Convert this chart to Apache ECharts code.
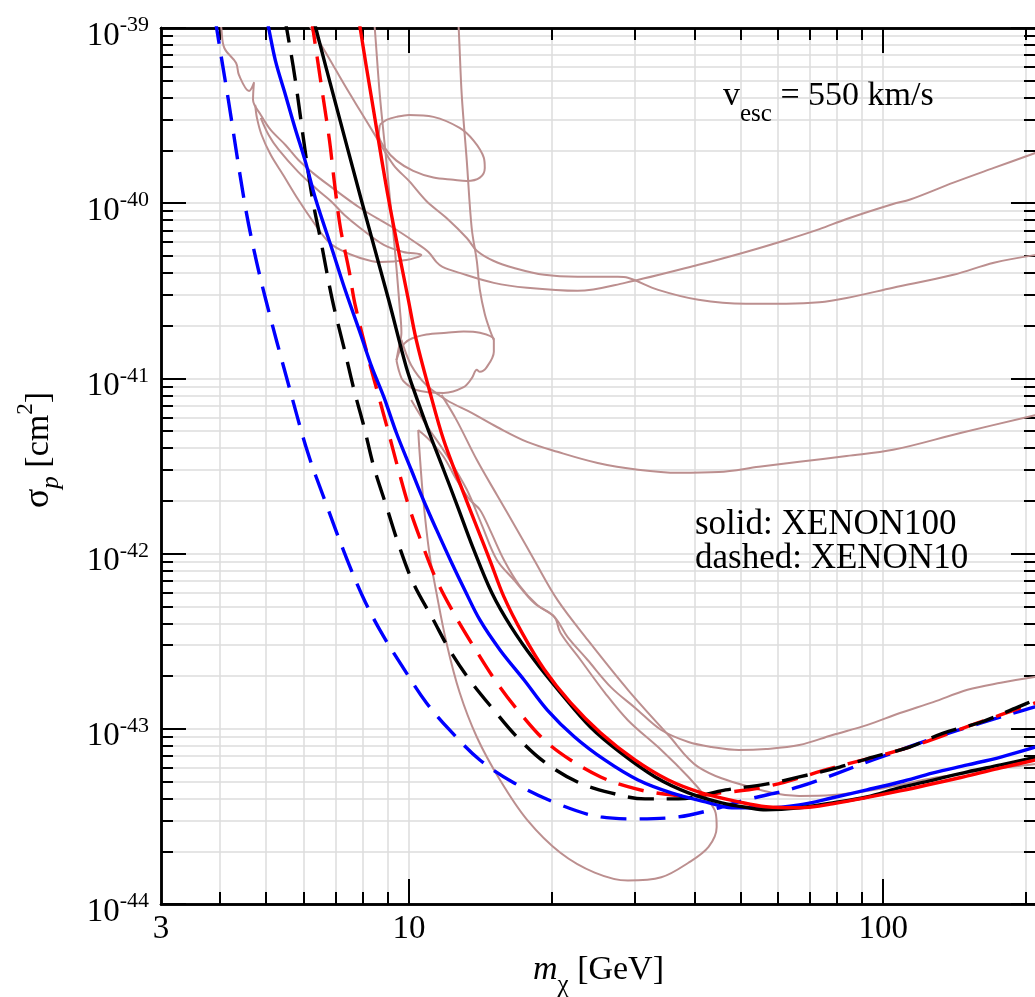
<!DOCTYPE html>
<html>
<head>
<meta charset="utf-8">
<script src="https://cdn.jsdelivr.net/npm/echarts@6/dist/echarts.min.js"></script>
<style>
html,body{margin:0;padding:0;background:#fff;overflow:hidden;}
#chart{width:1040px;height:997px;}
</style>
</head>
<body>
<div id="chart"></div>
<script>
// ---- axis ticks ----
const massTicks = [4, 5, 6, 7, 8, 9, 10, 20, 30, 40, 50, 60, 70, 80, 90, 100, 200];
const massMajorTicks = [10, 100];
const massLabels = [3, 10, 100];
const sigmaDecades = [1e-44, 1e-43, 1e-42, 1e-41, 1e-40, 1e-39];
const sigmaMantissas = [1, 2, 3, 4, 5, 6, 7, 8, 9];

// ---- exclusion limits, [m_chi (GeV), sigma_p (cm^2)] ----
// XENON10 (dashed)
const xenon10Blue = [[3.91,1.14e-39],[3.93,1.0e-39],[4.16,3.89e-40],[4.49,1.05e-40],[4.71,5.41e-41],[4.99,2.81e-41],[5.56,9.41e-42],[6.12,3.76e-42],[6.64,2.03e-42],[7.31,1.01e-42],[7.96,5.81e-43],[8.68,3.67e-43],[9.87,2.09e-43],[10.88,1.41e-43],[12.18,9.85e-44],[14.11,6.64e-44],[16.66,4.91e-44],[20.86,3.68e-44],[25.37,3.14e-44],[30.41,3.06e-44],[36.98,3.14e-44],[43.47,3.45e-44],[51.33,3.93e-44],[66.53,4.67e-44],[95.09,6.64e-44],[133.9,9.22e-44],[192.3,1.25e-43],[210,1.34e-43]];
const xenon10Red = [[6.24,1.14e-39],[6.27,1.0e-39],[6.42,6.49e-40],[6.58,4.15e-40],[6.80,2.27e-40],[6.97,1.28e-40],[7.17,7.22e-41],[7.48,4.10e-41],[7.70,2.63e-41],[8.23,1.27e-41],[8.64,7.84e-42],[9.06,4.88e-42],[9.50,3.01e-42],[10.0,1.85e-42],[10.72,1.09e-42],[11.43,7.07e-43],[12.42,4.59e-43],[13.70,2.94e-43],[15.33,1.83e-43],[17.15,1.23e-43],[19.29,8.63e-44],[21.91,6.64e-44],[25.37,5.31e-44],[28.95,4.67e-44],[33.05,4.31e-44],[38.84,4.14e-44],[45.65,4.31e-44],[56.6,4.67e-44],[78.19,5.98e-44],[112.3,7.77e-44],[158.2,1.08e-43],[210,1.41e-43]];
const xenon10Black = [[5.46,1.16e-39],[5.52,1.0e-39],[5.75,5.19e-40],[6.04,1.99e-40],[6.27,1.03e-40],[6.52,6.09e-41],[6.90,2.77e-41],[7.31,1.46e-41],[7.66,8.59e-42],[8.04,5.29e-42],[8.43,3.13e-42],[8.97,1.85e-42],[9.55,1.09e-42],[10.21,6.80e-43],[11.26,4.18e-43],[12.18,2.82e-43],[13.43,1.90e-43],[15.10,1.28e-43],[16.90,8.98e-44],[19.29,6.47e-44],[22.67,4.97e-44],[26.65,4.31e-44],[31.47,3.98e-44],[36.98,3.98e-44],[46.55,4.48e-44],[56.6,4.83e-44],[66.53,5.31e-44],[80.91,6.05e-44],[95.09,6.90e-44],[114.0,7.88e-44],[133.9,9.46e-44],[160.6,1.09e-43],[192.3,1.33e-43],[210,1.47e-43]];
// XENON100 (solid)
const xenon100Blue = [[5.01,1.14e-39],[5.06,1.0e-39],[5.23,6.49e-40],[5.49,4.15e-40],[5.75,2.69e-40],[6.04,1.75e-40],[6.36,1.05e-40],[6.90,5.36e-41],[7.31,3.29e-41],[7.89,1.82e-41],[8.35,1.16e-41],[8.85,7.84e-42],[9.41,4.88e-42],[10.11,3.01e-42],[10.72,2.03e-42],[11.43,1.37e-42],[12.30,8.87e-43],[13.11,6.20e-43],[14.11,4.18e-43],[15.56,2.82e-43],[17.49,1.90e-43],[19.58,1.28e-43],[22.35,8.98e-44],[25.87,6.64e-44],[30.41,5.10e-44],[35.74,4.31e-44],[42.21,3.83e-44],[47.94,3.54e-44],[56.6,3.54e-44],[66.53,3.68e-44],[78.19,4.04e-44],[92.35,4.48e-44],[108.5,4.97e-44],[127.5,5.60e-44],[150.6,6.22e-44],[177.0,6.90e-44],[210,7.88e-44]];
const xenon100Black = [[6.30,1.14e-39],[6.36,1.0e-39],[6.97,3.89e-40],[7.93,1.05e-40],[9.06,2.81e-41],[9.87,1.16e-41],[10.36,7.84e-42],[11.04,4.88e-42],[11.83,3.01e-42],[12.67,1.85e-42],[13.63,1.09e-42],[14.96,5.96e-43],[16.42,3.82e-43],[18.37,2.47e-43],[20.86,1.61e-43],[24.16,1.02e-43],[27.98,7.28e-44],[33.05,5.31e-44],[38.84,4.31e-44],[45.65,3.78e-44],[52.10,3.54e-44],[56.6,3.45e-44],[66.53,3.54e-44],[78.19,3.78e-44],[92.35,4.08e-44],[108.5,4.61e-44],[127.5,5.10e-44],[150.6,5.68e-44],[177.0,6.22e-44],[210,6.90e-44]];
const xenon100Red = [[7.85,1.14e-39],[7.89,1.0e-39],[8.35,3.89e-40],[9.06,1.05e-40],[9.97,2.81e-41],[10.36,1.66e-41],[11.04,8.59e-42],[11.83,4.46e-42],[12.79,2.53e-42],[13.90,1.42e-42],[14.81,9.19e-43],[15.86,5.66e-43],[17.32,3.53e-43],[19.29,2.18e-43],[21.91,1.41e-43],[25.37,9.46e-44],[29.96,6.64e-44],[35.23,5.10e-44],[41.39,4.31e-44],[49.61,3.83e-44],[56.6,3.59e-44],[66.53,3.54e-44],[78.19,3.73e-44],[108.5,4.42e-44],[150.6,5.38e-44],[177.0,5.98e-44],[210,6.64e-44]];

// ---- other experiments (thin, light brown) ----
const regionUpperLoop = [[8.68,2.80e-40],[8.97,2.99e-40],[9.41,3.11e-40],[10.0,3.19e-40],[11.26,3.11e-40],[12.79,2.69e-40],[13.70,2.27e-40],[14.38,1.82e-40],[14.45,1.59e-40],[14.11,1.40e-40],[13.24,1.34e-40],[12.42,1.36e-40],[11.26,1.40e-40],[10.21,1.53e-40],[9.41,1.75e-40],[8.89,2.07e-40],[8.64,2.45e-40],[8.68,2.80e-40]];
const regionLowerLoop = [[9.41,1.27e-41],[9.64,1.50e-41],[10.0,1.66e-41],[10.88,1.78e-41],[12.0,1.82e-41],[13.04,1.85e-41],[14.11,1.82e-41],[15.10,1.66e-41],[15.10,1.42e-41],[14.59,1.16e-41],[14.11,1.09e-41],[13.90,1.12e-41],[13.56,1.0e-41],[13.04,8.91e-42],[11.83,8.26e-42],[10.36,8.59e-42],[9.73,9.66e-42],[9.55,1.08e-41],[9.41,1.27e-41]];
const regionLeftEdge = [[8.43,1.14e-39],[8.47,1.0e-39],[8.68,4.15e-40],[8.89,2.15e-40],[9.10,1.12e-40],[9.32,5.78e-41],[9.55,2.63e-41],[9.64,1.82e-41],[9.50,1.46e-41],[9.41,1.27e-41]];
const regionRightEdge = [[12.67,1.14e-39],[12.73,1.0e-39],[12.92,4.15e-40],[13.24,1.75e-40],[13.56,7.22e-41],[13.90,4.68e-41],[14.11,3.20e-41],[14.45,2.33e-41],[14.81,1.89e-41],[15.10,1.66e-41]];
const regionTongue = [[4.87,3.07e-40],[5.06,2.45e-40],[5.31,2.02e-40],[5.84,1.51e-40],[6.42,1.19e-40],[6.84,1.03e-40],[7.31,8.56e-41],[7.89,7.22e-41],[8.85,5.78e-41],[9.73,5.27e-41],[10.62,5.07e-41],[9.87,4.74e-41],[8.68,4.61e-41],[7.89,4.87e-41],[7.17,5.41e-41],[6.74,6.09e-41],[6.27,7.89e-41],[5.84,1.05e-40],[5.43,1.45e-40],[5.11,1.89e-40],[4.89,2.45e-40],[4.78,3.07e-40],[4.74,3.64e-40]];
const regionLarge = [[10.46,5.08e-42],[11.04,4.46e-42],[11.83,3.57e-42],[12.60,2.64e-42],[13.43,2.03e-42],[14.11,1.78e-42],[14.81,1.37e-42],[15.86,9.19e-43],[17.07,6.62e-43],[18.64,5.09e-43],[20.26,4.35e-43],[20.86,3.53e-43],[23.01,2.47e-43],[25.87,1.61e-43],[28.95,1.12e-43],[34.04,7.57e-44],[38.84,5.31e-44],[42.21,4.08e-44],[44.33,3.31e-44],[44.55,2.75e-44],[42.83,2.12e-44],[38.84,1.72e-44],[34.04,1.42e-44],[28.95,1.36e-44],[24.64,1.51e-44],[20.86,1.96e-44],[17.75,3.02e-44],[15.56,5.10e-44],[13.90,8.98e-44],[12.79,1.61e-43],[12.0,3.09e-43],[11.43,5.96e-43],[11.04,1.01e-42],[10.72,2.03e-42],[10.52,3.91e-42],[10.46,5.08e-42]];
const limitOne = [[4.00,1.14e-39],[4.02,1.0e-39],[4.08,7.69e-40],[4.32,6.32e-40],[4.38,5.39e-40],[4.60,4.37e-40],[4.71,4.86e-40],[4.69,3.89e-40],[4.87,3.19e-40],[5.11,2.62e-40],[5.49,2.15e-40],[5.84,1.77e-40],[6.27,1.49e-40],[6.74,1.28e-40],[7.89,9.39e-41],[9.28,7.22e-41],[10.36,5.93e-41],[10.99,5.27e-41],[11.43,4.61e-41],[11.77,4.33e-41],[12.79,4.00e-41],[15.10,3.51e-41],[17.75,3.29e-41],[22.67,3.16e-41],[28.53,3.51e-41],[40.78,4.45e-41],[51.33,5.27e-41],[62.43,6.17e-41],[73.38,7.11e-41],[83.73,8.13e-41],[104.9,9.9e-41],[114.0,1.05e-40],[140.6,1.31e-40],[171.1,1.59e-40],[210,1.94e-40]];
const limitTwo = [[6.03,1.14e-39],[6.21,1.0e-39],[6.74,6.93e-40],[7.31,4.74e-40],[7.89,3.37e-40],[8.55,2.36e-40],[9.28,1.65e-40],[10.0,1.34e-40],[10.88,1.03e-40],[12.0,8.23e-41],[13.24,6.33e-41],[13.90,5.36e-41],[15.10,4.68e-41],[16.66,4.27e-41],[19.29,3.90e-41],[22.67,3.80e-41],[27.57,3.80e-41],[28.95,3.75e-41],[33.54,3.20e-41],[40.78,2.81e-41],[51.33,2.67e-41],[62.43,2.67e-41],[73.38,2.72e-41],[83.73,2.88e-41],[104.9,3.29e-41],[140.6,3.90e-41],[171.1,4.57e-41],[210,5.07e-41]];
const limitThree = [[9.64,1.66e-41],[10.11,1.19e-41],[10.88,9.17e-42],[12.0,7.53e-42],[13.56,6.35e-42],[15.33,5.28e-42],[17.75,4.34e-42],[20.56,3.81e-42],[25.0,3.29e-42],[30.41,3.01e-42],[36.98,2.89e-42],[44.99,2.92e-42],[54.70,3.13e-42],[66.53,3.34e-42],[83.73,3.61e-42],[104.9,3.91e-42],[145.5,4.88e-42],[210,6.18e-42]];
const limitFour = [[10.11,7.53e-42],[10.88,5.42e-42],[12.0,3.66e-42],[13.24,2.32e-42],[14.24,1.46e-42],[15.33,9.19e-43],[16.66,7.07e-43],[18.37,5.22e-43],[20.26,4.35e-43],[21.59,3.35e-43],[23.81,2.47e-43],[26.65,1.73e-43],[29.96,1.32e-43],[34.04,9.84e-44],[38.84,8.41e-44],[43.47,7.88e-44],[49.61,7.57e-44],[56.6,7.67e-44],[66.53,8.08e-44],[78.19,9.22e-44],[92.35,1.05e-43],[108.5,1.23e-43],[127.5,1.42e-43],[150.6,1.67e-43],[177.0,1.83e-43],[210,1.98e-43]];
const limitFive = [[11.71,8.05e-42],[12.60,5.78e-42],[13.90,3.43e-42],[15.33,2.16e-42],[16.90,1.37e-42],[18.37,9.19e-43],[20.56,5.44e-43],[23.81,3.22e-43],[28.95,1.67e-43],[35.23,9.22e-44],[40.78,6.05e-44],[52.10,4.67e-44],[66.53,4.14e-44],[78.19,4.19e-44],[92.35,4.42e-44],[108.5,4.78e-44],[127.5,5.24e-44],[150.6,5.60e-44],[177.0,5.98e-44],[210,6.30e-44]];

// ---- styling ----
const SERIF = '"Liberation Serif", "Times New Roman", serif';
const BROWN = '#bc8f8f';
const GRID_GREY = '#dcdcdc';
// the cross-section axis works in units of 1e-44 cm^2 so that the
// log scale never handles numbers near the float rounding limit
const SIGMA_UNIT = 1e-44;
const toUnit = function (v) { return v / SIGMA_UNIT; };

const sigmaTicks = [];
sigmaDecades.forEach(function (d) {
  sigmaMantissas.forEach(function (k) {
    const v = toUnit(k * d);
    if (v <= 100001) sigmaTicks.push(v);
  });
});
const sigmaMajor = sigmaDecades.map(toUnit);

function massAxis(position, ticks, tickLen, main) {
  return {
    type: 'log', logBase: 10, min: 3, max: 210, gridIndex: 0, position: position,
    axisLine: { show: true, onZero: false, lineStyle: { color: '#000', width: 2.5 } },
    axisTick: { show: true, inside: true, length: tickLen, customValues: ticks,
      lineStyle: { color: '#000', width: 2 } },
    axisLabel: main ? {
      show: true, customValues: massLabels, margin: 9, color: '#000',
      fontFamily: SERIF, fontSize: 33, alignMinLabel: 'center', alignMaxLabel: 'center',
      formatter: function (v) { return String(Math.round(v)); }
    } : { show: false },
    splitLine: main ? { show: true, lineStyle: { color: GRID_GREY, width: 1.5 } } : { show: false },
    minorTick: { show: false }, minorSplitLine: { show: false },
    name: main ? '{i|m}{sub|χ}{n| [GeV]}' : '',
    nameLocation: 'middle', nameGap: 49, nameMoveOverlap: false,
    nameTextStyle: {
      color: '#000', fontFamily: SERIF, fontSize: 34,
      rich: {
        i: { fontFamily: SERIF, fontSize: 34, fontStyle: 'italic', color: '#000', verticalAlign: 'top', lineHeight: 34 },
        sub: { fontFamily: SERIF, fontSize: 25, color: '#000', verticalAlign: 'top', lineHeight: 25, padding: [20, 0, 0, 0] },
        n: { fontFamily: SERIF, fontSize: 34, color: '#000', verticalAlign: 'top', lineHeight: 34 }
      }
    },
    silent: true
  };
}

function sigmaAxis(position, ticks, tickLen, main) {
  return {
    type: 'log', logBase: 10, min: 1, max: 1e5, gridIndex: 0, position: position,
    axisLine: { show: true, onZero: false, lineStyle: { color: '#000', width: 2.5 } },
    axisTick: { show: true, inside: true, length: tickLen, customValues: ticks,
      lineStyle: { color: '#000', width: 2 } },
    axisLabel: main ? {
      show: true, customValues: sigmaMajor, margin: 12, color: '#000',
      formatter: function (v) {
        return '{b|10}{s|' + Math.round(Math.log10(v * SIGMA_UNIT)) + '}';
      },
      rich: {
        b: { fontFamily: SERIF, fontSize: 33, color: '#000', lineHeight: 33, verticalAlign: 'top', padding: [8, 0, 0, 0] },
        s: { fontFamily: SERIF, fontSize: 22, color: '#000', lineHeight: 22, verticalAlign: 'top', padding: [3, 0, 0, 0] }
      }
    } : { show: false },
    splitLine: main ? { show: true, lineStyle: { color: GRID_GREY, width: 1.5 } } : { show: false },
    minorTick: { show: false }, minorSplitLine: { show: false },
    name: main ? '{g|σ}{sub|p}{n| [cm}{sup|2}{n|]}' : '',
    nameLocation: 'middle', nameGap: 113, nameRotate: 90, nameMoveOverlap: false,
    nameTextStyle: {
      color: '#000', fontFamily: SERIF, fontSize: 34, padding: [0, 0, 0, 32],
      rich: {
        g: { fontFamily: SERIF, fontSize: 36, color: '#000', verticalAlign: 'top', lineHeight: 34, padding: [7, 0, 0, 0] },
        sub: { fontFamily: SERIF, fontSize: 25, fontStyle: 'italic', color: '#000', verticalAlign: 'top', lineHeight: 34, padding: [25, 0, 0, 0] },
        n: { fontFamily: SERIF, fontSize: 34, color: '#000', verticalAlign: 'top', lineHeight: 34, padding: [8, 0, 0, 0] },
        sup: { fontFamily: SERIF, fontSize: 23, color: '#000', verticalAlign: 'top', lineHeight: 34 }
      }
    },
    silent: true
  };
}

function curve(name, data, color, width, dashed, z) {
  return {
    name: name, type: 'line', xAxisIndex: 0, yAxisIndex: 0,
    data: data.map(function (p) { return [p[0], toUnit(p[1])]; }),
    showSymbol: false, symbol: 'none', smooth: 0.35, clip: true, silent: true,
    animation: false, z: z,
    lineStyle: { color: color, width: width, type: dashed ? [26, 13] : 'solid', cap: 'butt', join: 'round' }
  };
}

const chart = echarts.init(document.getElementById('chart'), null, { renderer: 'canvas' });
chart.setOption({
  backgroundColor: '#fff',
  animation: false,
  grid: { left: 161, right: 4, top: 28, bottom: 93, containLabel: false, outerBoundsMode: 'none' },
  xAxis: [
    massAxis('bottom', massTicks, 12, true),
    massAxis('bottom', massMajorTicks, 25, false),
    massAxis('top', massTicks, 12, false),
    massAxis('top', massMajorTicks, 25, false)
  ],
  yAxis: [
    sigmaAxis('left', sigmaTicks, 12, true),
    sigmaAxis('left', sigmaMajor, 25, false),
    sigmaAxis('right', sigmaTicks, 12, false),
    sigmaAxis('right', sigmaMajor, 25, false)
  ],
  series: [
    curve('regionUpperLoop', regionUpperLoop, BROWN, 2, false, 2),
    curve('regionLowerLoop', regionLowerLoop, BROWN, 2, false, 2),
    curve('regionLeftEdge', regionLeftEdge, BROWN, 2, false, 2),
    curve('regionRightEdge', regionRightEdge, BROWN, 2, false, 2),
    curve('regionTongue', regionTongue, BROWN, 2, false, 2),
    curve('regionLarge', regionLarge, BROWN, 2, false, 2),
    curve('limitOne', limitOne, BROWN, 2, false, 2),
    curve('limitTwo', limitTwo, BROWN, 2, false, 2),
    curve('limitThree', limitThree, BROWN, 2, false, 2),
    curve('limitFour', limitFour, BROWN, 2, false, 2),
    curve('limitFive', limitFive, BROWN, 2, false, 2),
    curve('XENON10 blue', xenon10Blue, '#0000ff', 3.4, true, 3),
    curve('XENON10 red', xenon10Red, '#ff0000', 3.4, true, 3),
    curve('XENON10 black', xenon10Black, '#000000', 3.4, true, 3),
    curve('XENON100 blue', xenon100Blue, '#0000ff', 3.4, false, 4),
    curve('XENON100 black', xenon100Black, '#000000', 3.4, false, 4),
    curve('XENON100 red', xenon100Red, '#ff0000', 3.4, false, 4)
  ],
  graphic: [
    {
      type: 'text', left: 723, top: 79, silent: true, z: 10,
      style: {
        text: '{a|v}{b|esc}{a| = 550 km/s}',
        rich: {
          a: { fontFamily: SERIF, fontSize: 34, fill: '#000', lineHeight: 34, verticalAlign: 'top' },
          b: { fontFamily: SERIF, fontSize: 25, fill: '#000', lineHeight: 25, verticalAlign: 'top', padding: [23, 0, 0, 0] }
        }
      }
    },
    {
      type: 'text', left: 695, top: 507, silent: true, z: 10,
      style: {
        text: 'solid: XENON100\ndashed: XENON10',
        fontFamily: SERIF, fontSize: 35, lineHeight: 34, fill: '#000'
      }
    }
  ]
});
</script>
</body>
</html>
